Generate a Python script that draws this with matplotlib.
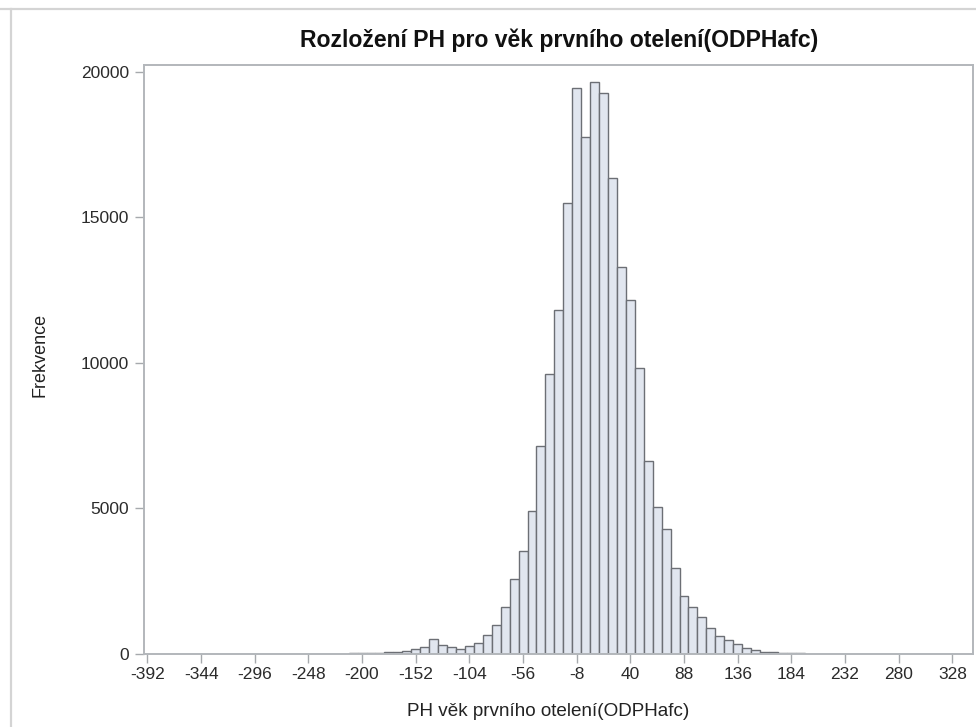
import numpy as np
import matplotlib
matplotlib.use('Agg')
import matplotlib.pyplot as plt
from matplotlib.lines import Line2D

plt.rcParams['font.family'] = ['Liberation Sans', 'DejaVu Sans']

# Histogram bins (width 8) and their frequencies
bin_width = 8
bin_centers = np.arange(-392, 329, bin_width)
counts = [
    1, 0, 1, 1, 0, 1, 1, 2, 1, 2, 2, 3, 2, 3, 4, 4, 5, 6, 6, 8, 9, 11, 14, 18, 22,  # -392 .. -200
    30, 40, 55, 75, 100, 161, 230, 505, 309, 230, 172, 275, 367,                    # -192 .. -96
    660, 990, 1630, 2570, 3550, 4920, 7140, 9630, 11810, 15500,                     # -88 .. -16
    19430, 17740, 19640, 19280, 16360, 13300, 12160, 9830, 6630, 5040,             # -8 .. 64
    4290, 2970, 2000, 1620, 1260, 900, 620, 480, 330, 215,                         # 72 .. 144
    137, 82, 55, 38, 27, 19, 14, 10, 8, 6, 5, 4, 3, 3, 2, 2, 1, 1, 1, 1, 0, 0, 1,  # 152 .. 328
]
xticks = [-392, -344, -296, -248, -200, -152, -104, -56, -8, 40, 88, 136, 184, 232, 280, 328]
yticks = [0, 5000, 10000, 15000, 20000]

W, H = 976, 727
fig = plt.figure(figsize=(W / 100, H / 100), dpi=100)
ax = fig.add_axes([143.5 / W, 1 - 654 / H, (973 - 143.5) / W, (654 - 65) / H])

ax.bar(bin_centers, counts, width=bin_width, color='#e1e6ef',
       edgecolor='#6c6f75', linewidth=1.0)

ax.set_xlim(-395.5, 346.5)
ax.set_ylim(0, 20230)
ax.set_xticks(xticks)
ax.set_xticklabels([str(t) for t in xticks])
ax.set_yticks(yticks)

for side in ['left', 'right', 'top', 'bottom']:
    ax.spines[side].set_color('#b3b7bb')
    ax.spines[side].set_linewidth(1.4)
ax.tick_params(axis='both', length=6.5, width=1, color='#a6a9ad',
               labelcolor='#2b2b2b', labelsize=12.5)
ax.tick_params(axis='x', pad=3)
ax.tick_params(axis='y', pad=4)

# titles placed in figure pixel coordinates
fig.text(559 / W, 1 - 40 / H, 'Rozložení PH pro věk prvního otelení(ODPHafc)',
         fontsize=16.6, fontweight='bold', color='#111111', ha='center', va='center')
fig.text(548 / W, 1 - 711 / H, 'PH věk prvního otelení(ODPHafc)',
         fontsize=13.6, color='#222222', ha='center', va='center')
fig.text(40 / W, 1 - 355 / H, 'Frekvence', fontsize=13, color='#222222',
         rotation=90, ha='center', va='center')

# light outer frame lines at top and left
fig.add_artist(Line2D([11 / W, 11 / W], [0, 1 - 9 / H], transform=fig.transFigure,
                      color='#d4d4d4', linewidth=1.6))
fig.add_artist(Line2D([0, 1], [1 - 9 / H, 1 - 9 / H], transform=fig.transFigure,
                      color='#d4d4d4', linewidth=1.6))

fig.savefig('out.png', dpi=100)
